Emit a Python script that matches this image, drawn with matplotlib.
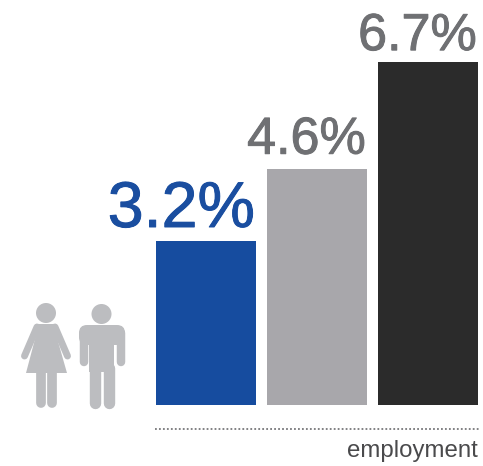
import matplotlib
matplotlib.use("Agg")
import matplotlib.pyplot as plt
import matplotlib.patheffects as pe
from matplotlib.patches import Circle, Polygon, FancyBboxPatch, Rectangle

plt.rcParams['font.family'] = ['Liberation Sans', 'DejaVu Sans']

WIDTH, HEIGHT = 483, 466
PX_PER_UNIT = 51.25  # bar height in pixels per percentage point

values = [3.2, 4.6, 6.7]
labels = ["3.2%", "4.6%", "6.7%"]
bar_colors = ["#164c9f", "#a8a7ab", "#2b2b2b"]
label_colors = ["#1a4ea0", "#6f7073", "#6f7073"]
label_sizes = [46.5, 37.5, 37.5]
label_gaps = [14, 15.5, 11.5]  # pixels between bar top and label baseline
ICON_GREY = "#bcbdc0"

fig = plt.figure(figsize=(WIDTH / 100, HEIGHT / 100), dpi=100)

# value axes: bars sit 111 px apart, first one centred at x=206, baseline at y=405
ax = fig.add_axes([0, 0, 1, 1])
ax.set_xlim(-206 / 111, (WIDTH - 206) / 111)
ax.set_ylim(-(HEIGHT - 405) / PX_PER_UNIT, 405 / PX_PER_UNIT)
ax.axis("off")

positions = list(range(len(values)))
ax.bar(positions, values, width=0.9, color=bar_colors, linewidth=0)
for x, v, text, c, size, gap in zip(positions, values, labels, label_colors, label_sizes, label_gaps):
    ax.text(x + 0.44, v + gap / PX_PER_UNIT, text, ha="right", va="baseline", fontsize=size, color=c,
            path_effects=[pe.withStroke(linewidth=0.7, foreground=c)])

# overlay in pixel coordinates for the icons and footer
px = fig.add_axes([0, 0, 1, 1])
px.set_xlim(0, WIDTH)
px.set_ylim(HEIGHT, 0)
px.axis("off")
px.patch.set_alpha(0)


def stroke(points, lw):
    px.plot(*zip(*points), color=ICON_GREY, lw=lw, solid_capstyle="round", solid_joinstyle="round")


# woman
px.add_patch(Circle((46, 313), 10, color=ICON_GREY, lw=0))
px.add_patch(Polygon([(39, 324), (53, 324), (67, 373), (26, 373)], closed=True, color=ICON_GREY, lw=0))
stroke([(37, 327), (24.5, 356)], 5)
stroke([(55, 327), (67.5, 356)], 5)
stroke([(38, 326.5), (54, 326.5)], 4)
stroke([(41, 372), (41, 403)], 7)
stroke([(52, 372), (52, 403)], 7)

# man
px.add_patch(Circle((101.5, 314), 10, color=ICON_GREY, lw=0))
px.add_patch(FancyBboxPatch((79, 325), 46, 20, boxstyle="round,pad=0,rounding_size=8", color=ICON_GREY, lw=0))
px.add_patch(Rectangle((89, 328), 25, 44, color=ICON_GREY, lw=0))
stroke([(83.5, 333), (83.5, 362)], 6.1)
stroke([(120.5, 333), (120.5, 362)], 6.1)
stroke([(95, 368), (95, 403)], 8.2)
stroke([(108.5, 368), (108.5, 403)], 8.2)

# dotted rule and caption
px.plot([155, 479], [428.5, 428.5], color="#77777a", lw=1.3, linestyle=(0, (1, 1.2)))
px.text(478, 451.5, "employment", ha="right", va="center", fontsize=17.3, color="#4a4a4c")

fig.savefig("out.png", dpi=100)
